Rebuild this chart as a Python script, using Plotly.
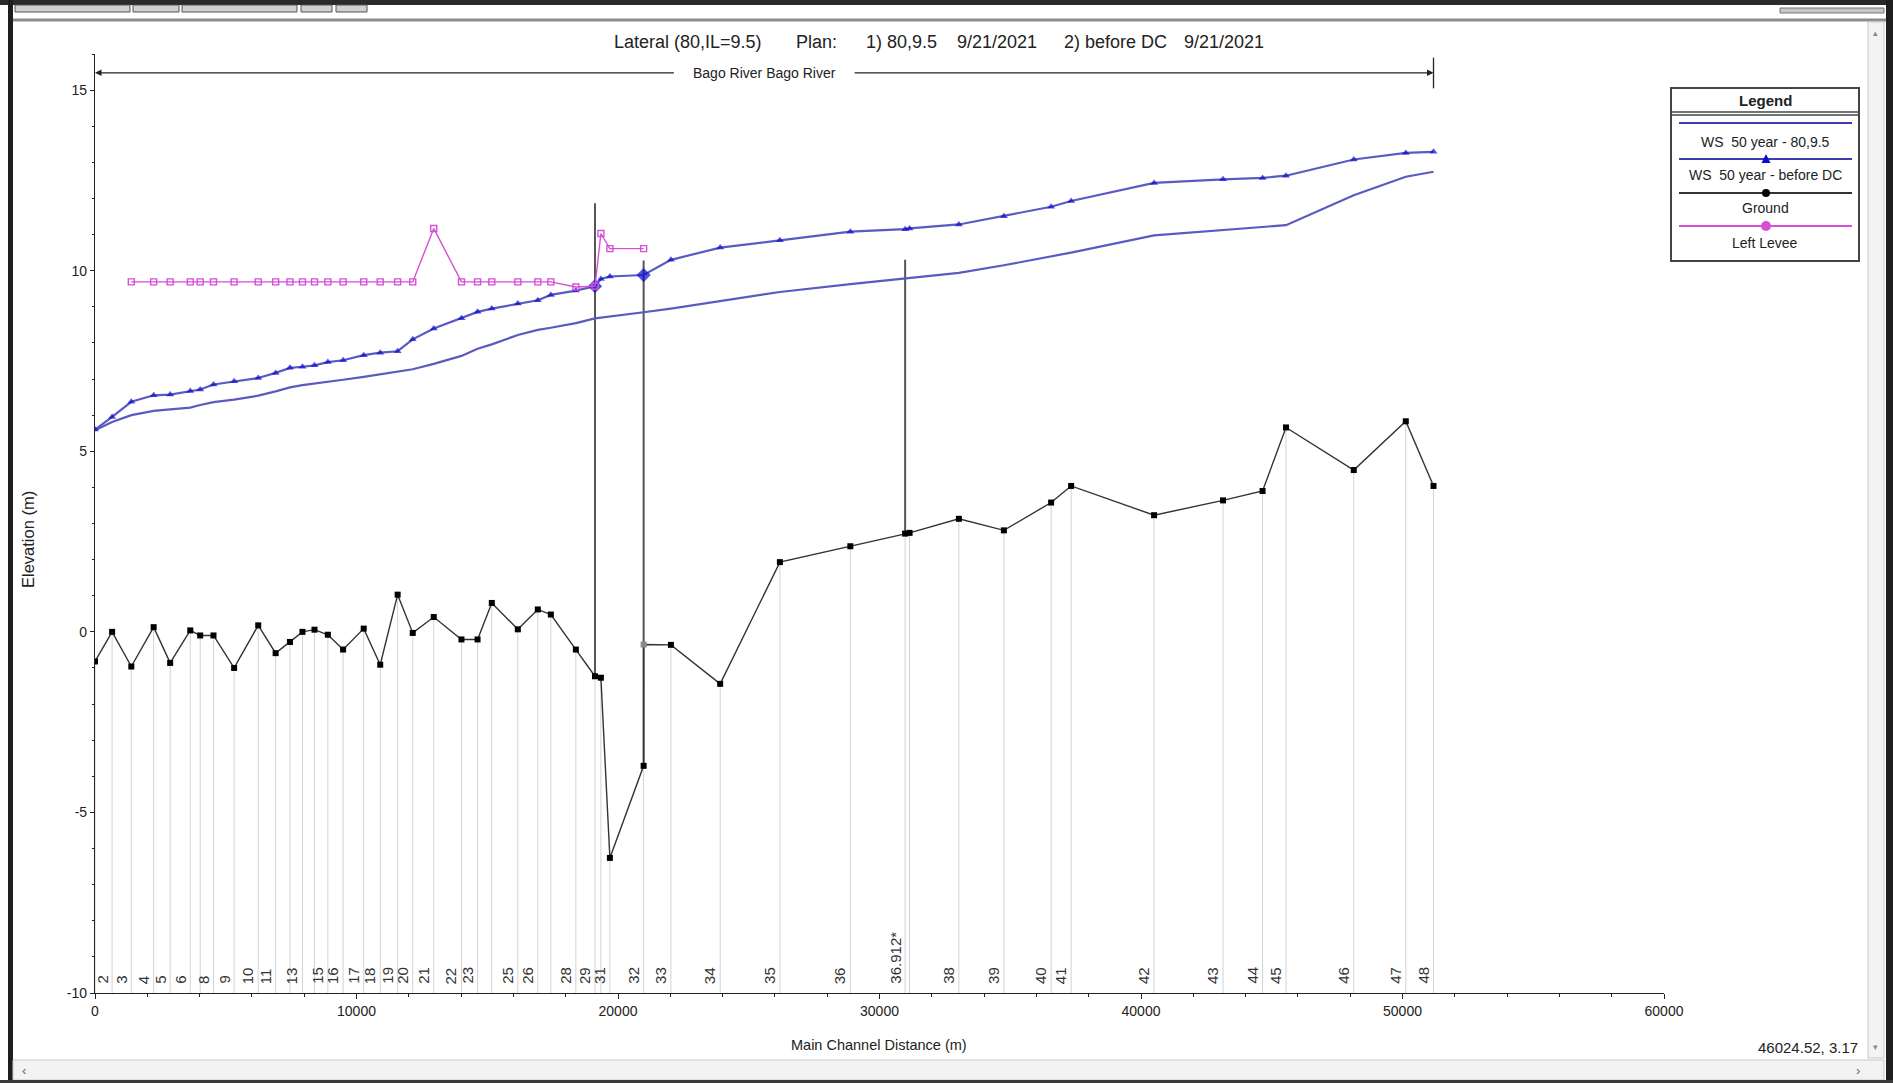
import plotly.graph_objects as go

# ---------------- data ----------------
station_names = ["1", "2", "3", "4", "5", "6", "7", "8", "9", "10", "11", "12", "13", "14", "15",
                 "16", "17", "18", "19", "20", "21", "22", "23", "24", "25", "26", "27", "28", "29",
                 "30", "31", "32", "33", "34", "35", "36", "36.912*", "37", "38", "39", "40", "41",
                 "42", "43", "44", "45", "46", "47", "48"]
station_x = [0, 654, 1389, 2243, 2874, 3643, 4022, 4531, 5320, 6242, 6908, 7455, 7933, 8393, 8905,
             9487, 10276, 10907, 11573, 12151, 12954, 14014, 14630, 15174, 16169, 16934, 17432, 18389,
             19120, 19346, 19690, 20980, 22024, 23907, 26191, 28885, 30980, 31150, 33035, 34757,
             36563, 37328, 40500, 43137, 44649, 45545, 48136, 50126, 51186]
hidden_labels = ["1", "7", "12", "14", "24", "27", "30", "37"]

ground_elev = [-0.82, 0.00, -0.96, 0.13, -0.86, 0.04, -0.10, -0.10, -1.00, 0.18,
               -0.59, -0.28, 0.00, 0.06, -0.08, -0.49, 0.09, -0.91, 1.03, -0.03,
               0.41, -0.21, -0.21, 0.80, 0.07, 0.62, 0.48, -0.49, -1.23, -1.27,
               -6.26, -3.71, -0.36, -1.44, 1.93, 2.37, 2.72, 2.74, 3.13, 2.81,
               3.58, 4.04, 3.23, 3.64, 3.90, 5.66, 4.48, 5.83, 4.04]
ground_step_station = "32"
ground_step_elev = -0.35

ws_80_95 = [5.58, 5.81, 6.00, 6.12, 6.16, 6.21, 6.28, 6.36, 6.43, 6.54,
            6.66, 6.77, 6.83, 6.87, 6.91, 6.98, 7.06, 7.13, 7.21, 7.27,
            7.42, 7.64, 7.84, 7.96, 8.22, 8.36, 8.42, 8.55, 8.68, 8.70,
            8.72, 8.85, 8.95, 9.15, 9.41, 9.63, 9.78, 9.79, 9.94, 10.15,
            10.40, 10.50, 10.98, 11.12, 11.20, 11.26, 12.09, 12.60, 12.74]
ws_before_dc = [5.60, 5.95, 6.37, 6.55, 6.57, 6.67, 6.71, 6.85, 6.94, 7.03,
                7.17, 7.31, 7.34, 7.38, 7.47, 7.52, 7.66, 7.73, 7.77, 8.10,
                8.40, 8.68, 8.86, 8.95, 9.09, 9.18, 9.33, 9.45, 9.57, 9.77,
                9.84, 9.88, 10.30, 10.64, 10.84, 11.08, 11.15, 11.17, 11.28, 11.51,
                11.77, 11.93, 12.43, 12.53, 12.57, 12.63, 13.08, 13.26, 13.29]
ws_big_marker_stations = ["29", "32"]
left_levee = [None, None, 9.69, 9.69, 9.69, 9.69, 9.69, 9.69, 9.69, 9.69,
              9.69, 9.69, 9.69, 9.69, 9.69, 9.69, 9.69, 9.69, 9.69, 9.69,
              11.17, 9.69, 9.69, 9.69, 9.69, 9.69, 9.69, 9.55, 9.57, 11.03,
              10.61, 10.61, None, None, None, None, None, None, None, None,
              None, None, None, None, None, None, None, None, None]

struct_x = [19120, 20980, 30980]
struct_bottom = [-1.23, -3.71, 2.72]
struct_top = [11.87, 10.28, 10.30]

reach_name = "Bago River Bago River"
reach_y = 15.48
title_parts = ["Lateral (80,IL=9.5)", "Plan:", "1) 80,9.5", "9/21/2021", "2) before DC", "9/21/2021"]
x_tickvals = [0, 10000, 20000, 30000, 40000, 50000, 60000]
x_ticktext = ["0", "10000", "20000", "30000", "40000", "50000", "60000"]
y_tickvals = [-10, -5, 0, 5, 10, 15]
y_ticktext = ["-10", "-5", "0", "5", "10", "15"]
legend_names = ["WS  50 year - 80,9.5", "WS  50 year - before DC", "Ground", "Left Levee"]
cursor_readout = "46024.52, 3.17"

# ---------------- layout geometry ----------------
W, H = 1893, 1083
L, R, T, B = 95, 229, 54, 90
PW, PH = W - L - R, H - T - B
FONT = "Liberation Sans, Arial, Helvetica, sans-serif"
WS_LINE = "#5a5ac2"
WS_MARK = "#0b0bd2"
LEVEE = "#d64fd6"


def PX(px):
    return (px - L) / PW


def PY(py):
    return (H - B - py) / PH


fig = go.Figure()

# station (cross-section) lines, from ground down to the axis
sl_x, sl_y = [], []
for sx, g in zip(station_x, ground_elev):
    sl_x += [sx, sx, None]
    sl_y += [g, y_tickvals[0], None]
fig.add_trace(go.Scatter(x=sl_x, y=sl_y, mode="lines", line=dict(color="#d2d2d2", width=1),
                         hoverinfo="skip", showlegend=False))

# structure lines
st_x, st_y = [], []
for sx, b0, t0 in zip(struct_x, struct_bottom, struct_top):
    st_x += [sx, sx, None]
    st_y += [b0, t0, None]
fig.add_trace(go.Scatter(x=st_x, y=st_y, mode="lines", line=dict(color="#555555", width=2),
                         hoverinfo="skip", showlegend=False))

# WS plan 1 (no markers)
fig.add_trace(go.Scatter(x=station_x, y=ws_80_95, mode="lines", name=legend_names[0],
                         line=dict(color=WS_LINE, width=2.2), showlegend=False))

# WS plan 2 (triangles)
sym = ["diamond" if n in ws_big_marker_stations else "triangle-up" for n in station_names]
siz = [11 if n in ws_big_marker_stations else 7 for n in station_names]
fig.add_trace(go.Scatter(x=station_x, y=ws_before_dc, mode="lines+markers", name=legend_names[1],
                         line=dict(color=WS_LINE, width=2.2),
                         marker=dict(symbol=sym, size=siz, color=WS_MARK, line=dict(width=0)),
                         showlegend=False))

# Left levee
fig.add_trace(go.Scatter(x=station_x, y=left_levee, mode="lines+markers", name=legend_names[3],
                         line=dict(color=LEVEE, width=1.4),
                         marker=dict(symbol="square-open", size=6, color=LEVEE, line=dict(width=1.4)),
                         connectgaps=False, showlegend=False))

# Ground (with the step at the structure)
gx, gy, gc = [], [], []
for n, sx, g in zip(station_names, station_x, ground_elev):
    gx.append(sx)
    gy.append(g)
    gc.append("#000000")
    if n == ground_step_station:
        gx.append(sx)
        gy.append(ground_step_elev)
        gc.append("#8a8a8a")
fig.add_trace(go.Scatter(x=gx, y=gy, mode="lines+markers", name=legend_names[2],
                         line=dict(color="#333333", width=1.4),
                         marker=dict(symbol="square", size=6, color=gc),
                         showlegend=False))

# reach arrow tick at right end
reach_start, reach_end = min(station_x), max(station_x)
fig.add_trace(go.Scatter(x=[reach_end, reach_end], y=[reach_y - 0.43, reach_y + 0.42], mode="lines",
                         line=dict(color="#222222", width=1.3), hoverinfo="skip", showlegend=False))

annotations = []
reach_mid = (reach_start + reach_end) / 2
gap = 3400
annotations.append(dict(x=reach_start, y=reach_y, ax=reach_mid - gap, ay=reach_y, xref="x", yref="y",
                        axref="x", ayref="y", text="", showarrow=True, arrowhead=2, arrowsize=1,
                        arrowwidth=1.3, arrowcolor="#222222"))
annotations.append(dict(x=reach_end, y=reach_y, ax=reach_mid + gap, ay=reach_y, xref="x", yref="y",
                        axref="x", ayref="y", text="", showarrow=True, arrowhead=2, arrowsize=1,
                        arrowwidth=1.3, arrowcolor="#222222"))
annotations.append(dict(x=reach_mid, y=reach_y, xref="x", yref="y", text=reach_name, showarrow=False,
                        xanchor="center", yanchor="middle",
                        font=dict(family=FONT, size=14, color="#222222")))

# station labels
for n, sx in zip(station_names, station_x):
    if n in hidden_labels:
        continue
    annotations.append(dict(x=sx, y=y_tickvals[0], xref="x", yref="y", text=n, showarrow=False,
                            textangle=-90, xanchor="right", yanchor="bottom", xshift=0, yshift=7,
                            font=dict(family=FONT, size=15, color="#333333")))


def ptext(txt, x, y, size, xanchor="center", angle=0, color="#222222"):
    annotations.append(dict(x=PX(x), y=PY(y), xref="paper", yref="paper", text=txt, showarrow=False,
                            xanchor=xanchor, yanchor="middle", textangle=angle,
                            font=dict(family=FONT, size=size, color=color)))


# title
title_left = [612, 794, 864, 955, 1062, 1182]
for txt, xl in zip(title_parts, title_left):
    ptext(txt, xl, 42, 18, xanchor="left")

# axis titles and readout
ptext("Elevation (m)", 28, 540, 16.5, angle=-90)
ptext("Main Channel Distance (m)", 879, 1045, 14.5)
ptext(cursor_readout, 1860, 1047, 15, xanchor="right")

shapes = []


def rect(x0, y0, x1, y1, fill, line_color=None, lw=0):
    shapes.append(dict(type="rect", xref="paper", yref="paper", x0=PX(x0), x1=PX(x1), y0=PY(y1), y1=PY(y0),
                       fillcolor=fill, line=dict(color=line_color or fill, width=lw), layer="above"))


def hline(x0, x1, y, color, lw):
    shapes.append(dict(type="line", xref="paper", yref="paper", x0=PX(x0), x1=PX(x1), y0=PY(y), y1=PY(y),
                       line=dict(color=color, width=lw), layer="above"))


# window chrome
rect(0, 0, W, 5, "#2a2a2a")
for a, b in [(15, 130), (133, 179), (182, 297), (301, 332), (336, 367)]:
    rect(a, 5, b, 12, "#d0d0d0", "#555555", 1)
rect(1780, 8, 1884, 13, "#c8c8c8", "#777777", 1)
hline(13, 1886, 20, "#8c8c8c", 3)
rect(8, 0, 13, H, "#1e1e1e")
rect(1886, 0, W, H, "#1e1e1e")
rect(1868, 22, 1884, 1058, "#f3f3f3", "#c8c8c8", 1)
rect(13, 1060, 1884, 1080, "#f3f3f3", "#c8c8c8", 1)
rect(0, 1080, W, H, "#3a3a3a")
ptext("‹", 24, 1070, 13, color="#666666")
ptext("›", 1858, 1070, 13, color="#666666")
ptext("▾", 1876, 1047, 9, color="#888888")
ptext("▴", 1876, 33, 9, color="#888888")

# legend box
rect(1671, 88, 1859, 261, "#ffffff", "#444444", 2)
hline(1671, 1859, 112, "#444444", 1.5)
hline(1671, 1859, 115, "#444444", 1.5)
leg_line_y = [123, 159, 193, 226]
leg_colors = ["#3c3cb0", "#3c3cb0", "#333333", LEVEE]
for yy, cc in zip(leg_line_y, leg_colors):
    hline(1679, 1852, yy, cc, 2)
mx = 1766
shapes.append(dict(type="path", xref="paper", yref="paper",
                   path="M %f,%f L %f,%f L %f,%f Z" % (PX(mx - 4.5), PY(163), PX(mx + 4.5), PY(163), PX(mx), PY(154)),
                   fillcolor=WS_MARK, line=dict(width=0), layer="above"))
shapes.append(dict(type="circle", xref="paper", yref="paper", x0=PX(mx - 4), x1=PX(mx + 4),
                   y0=PY(197), y1=PY(189), fillcolor="#000000", line=dict(width=0), layer="above"))
shapes.append(dict(type="circle", xref="paper", yref="paper", x0=PX(mx - 5), x1=PX(mx + 5),
                   y0=PY(231), y1=PY(221), fillcolor=LEVEE, line=dict(width=0), layer="above"))
ptext("<b>Legend</b>", 1765, 100, 15)
leg_text_y = [142, 175, 208, 243]
for txt, yy in zip(legend_names, leg_text_y):
    ptext(txt, 1765, yy, 14)

fig.update_layout(
    width=W, height=H, margin=dict(l=L, r=R, t=T, b=B, pad=0),
    paper_bgcolor="#ffffff", plot_bgcolor="#ffffff",
    font=dict(family=FONT, size=14, color="#222222"),
    showlegend=False, annotations=annotations, shapes=shapes,
    xaxis=dict(range=[0, 60000], tickmode="array", tickvals=x_tickvals, ticktext=x_ticktext,
               showline=True, linecolor="#222222", linewidth=1.2, ticks="outside", ticklen=5,
               tickcolor="#222222", showgrid=False, zeroline=False,
               tickfont=dict(family=FONT, size=14, color="#222222"),
               minor=dict(tickmode="linear", tick0=0, dtick=2000, ticks="outside", ticklen=3,
                          tickcolor="#222222", showgrid=False)),
    yaxis=dict(range=[-10, 16], tickmode="array", tickvals=y_tickvals, ticktext=y_ticktext,
               showline=True, linecolor="#222222", linewidth=1.2, ticks="outside", ticklen=4,
               tickcolor="#222222", showgrid=False, zeroline=False,
               tickfont=dict(family=FONT, size=14, color="#222222"),
               minor=dict(tickmode="linear", tick0=0, dtick=1, ticks="outside", ticklen=2,
                          tickcolor="#222222", showgrid=False)),
)

fig.write_html("out.html", config={"displayModeBar": False},
               post_script="document.body.style.margin='0';")
